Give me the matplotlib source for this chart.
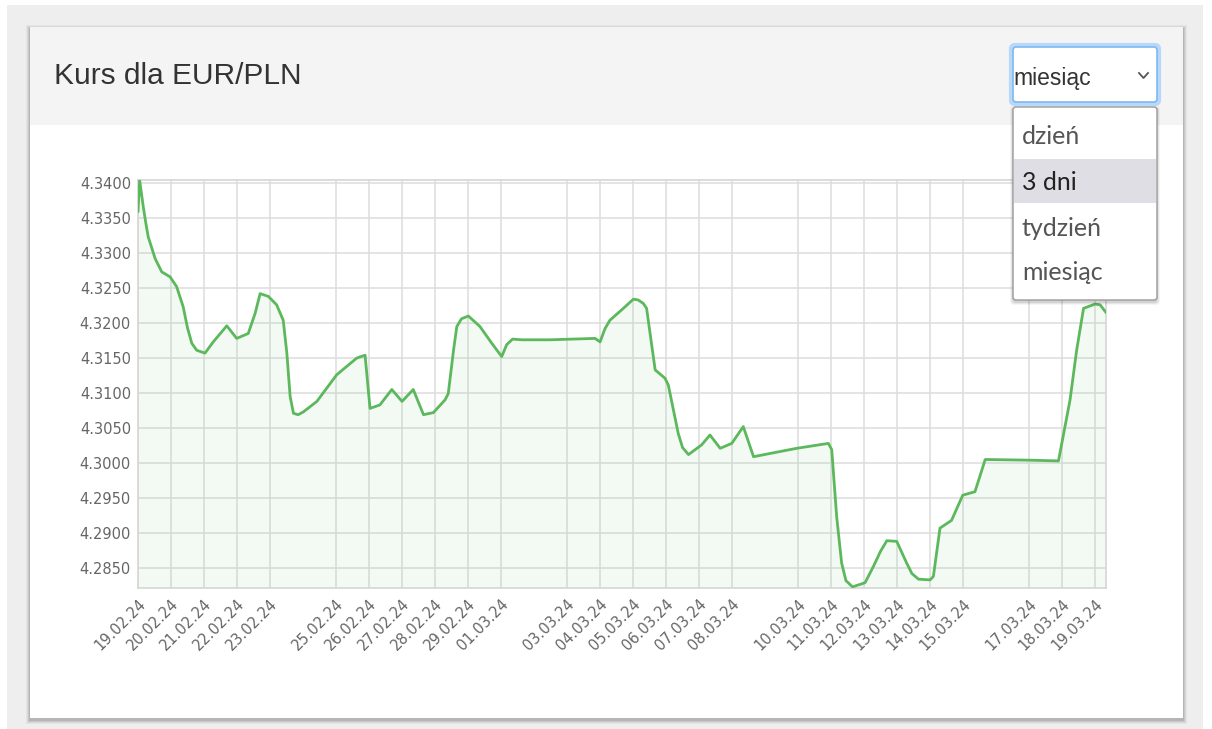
import datetime as dt
import matplotlib
matplotlib.use("Agg")
import matplotlib.pyplot as plt
from matplotlib.patches import Rectangle, FancyBboxPatch

# ---------------- data ----------------
title = "Kurs dla EUR/PLN"
start_date = "19.02.24"
day_offsets = [0.00, 0.05, 0.16, 0.24, 0.31, 0.52, 0.72, 0.97, 1.17, 1.37, 1.50, 1.63, 1.78,
               2.03, 2.28, 2.69, 2.99, 3.34, 3.55, 3.70, 3.95, 4.20, 4.40, 4.51, 4.61, 4.71,
               4.85, 5.01, 5.42, 6.02, 6.63, 6.88, 7.03, 7.33, 7.69, 8.00, 8.34, 8.65, 8.95,
               9.30, 9.40, 9.56, 9.66, 9.80, 10.01, 10.36, 10.72, 11.02, 11.17, 11.35, 11.63,
               12.48, 13.85, 14.00, 14.15, 14.30, 14.66, 15.01, 15.15, 15.31, 15.41, 15.67,
               15.97, 16.07, 16.37, 16.50, 16.68, 17.08, 17.33, 17.64, 17.99, 18.34, 18.65,
               19.96, 20.92, 21.02, 21.17, 21.32, 21.45, 21.65, 22.03, 22.28, 22.50, 22.69,
               22.99, 23.29, 23.45, 23.65, 24.00, 24.10, 24.30, 24.65, 24.99, 25.36, 25.67,
               27.03, 27.89, 28.24, 28.44, 28.65, 29.00, 29.15, 29.33]
rates = [4.3359, 4.3404, 4.3366, 4.3342, 4.3323, 4.3292, 4.3273, 4.3266, 4.3252, 4.3223,
         4.3193, 4.3171, 4.3161, 4.3157, 4.3173, 4.3196, 4.3178, 4.3185, 4.3214, 4.3242,
         4.3238, 4.3226, 4.3204, 4.3157, 4.3095, 4.3071, 4.3069, 4.3073, 4.3088, 4.3126,
         4.3150, 4.3154, 4.3078, 4.3083, 4.3105, 4.3088, 4.3105, 4.3069, 4.3072, 4.3090,
         4.3099, 4.3161, 4.3195, 4.3206, 4.3210, 4.3195, 4.3171, 4.3152, 4.3169, 4.3177,
         4.3176, 4.3176, 4.3178, 4.3173, 4.3192, 4.3204, 4.3219, 4.3234, 4.3233, 4.3228,
         4.3221, 4.3133, 4.3121, 4.3111, 4.3042, 4.3022, 4.3012, 4.3026, 4.3040, 4.3021,
         4.3028, 4.3052, 4.3009, 4.3021, 4.3028, 4.3019, 4.2923, 4.2857, 4.2832, 4.2823,
         4.2829, 4.2852, 4.2874, 4.2889, 4.2888, 4.2857, 4.2842, 4.2834, 4.2833, 4.2838,
         4.2907, 4.2918, 4.2954, 4.2959, 4.3005, 4.3004, 4.3003, 4.3090, 4.3161, 4.3221,
         4.3227, 4.3226, 4.3215]
tick_labels = ["19.02.24", "20.02.24", "21.02.24", "22.02.24", "23.02.24", "25.02.24",
               "26.02.24", "27.02.24", "28.02.24", "29.02.24", "01.03.24", "03.03.24",
               "04.03.24", "05.03.24", "06.03.24", "07.03.24", "08.03.24", "10.03.24",
               "11.03.24", "12.03.24", "13.03.24", "14.03.24", "15.03.24", "17.03.24",
               "18.03.24", "19.03.24"]
y_ticks = [4.2850, 4.2900, 4.2950, 4.3000, 4.3050, 4.3100, 4.3150, 4.3200, 4.3250,
           4.3300, 4.3350, 4.3400]
select_value = "miesiąc"
options = ["dzień", "3 dni", "tydzień", "miesiąc"]
highlighted = "3 dni"

# ---------------- figure ----------------
W, H = 1212, 729
fig = plt.figure(figsize=(W / 100, H / 100), dpi=100)
fig.patch.set_facecolor("white")

bg = fig.add_axes([0, 0, 1, 1], zorder=0)
bg.set_xlim(0, W)
bg.set_ylim(H, 0)
bg.axis("off")

# page panel
bg.add_patch(Rectangle((7, 5), 1196, 730, facecolor="#eeeeee", edgecolor="none"))
# card shadow
for i, a in enumerate([0.04, 0.05, 0.07, 0.09]):
    d = 4 - i
    bg.add_patch(Rectangle((30 - d, 27 - d + 2), 1153 + 2 * d, 691 + 2 * d,
                           facecolor="black", alpha=a, edgecolor="none"))
bg.add_patch(Rectangle((30, 27), 1153, 691, facecolor="white", edgecolor="none"))
bg.add_patch(Rectangle((30, 27), 1153, 98, facecolor="#f4f4f4", edgecolor="none"))
bg.text(54, 76, title, fontsize=21.5, family="Liberation Sans", color="#333333",
        ha="left", va="center")

# ---------------- chart ----------------
base = dt.datetime.strptime(start_date, "%d.%m.%y")
xs = [base + dt.timedelta(days=d) for d in day_offsets]
tick_pos = [dt.datetime.strptime(t, "%d.%m.%y") for t in tick_labels]

L, R, T, B = 138, 1106, 180, 588
ax = fig.add_axes([L / W, 1 - B / H, (R - L) / W, (B - T) / H], zorder=1)
ax.set_facecolor("white")

line_color = "#5cb85c"
ax.fill_between(xs, rates, 4.2, color="#5cb85c", alpha=0.07, lw=0, zorder=2)
ax.plot(xs, rates, color=line_color, lw=2.0, zorder=3,
        solid_joinstyle="round", solid_capstyle="round")

ax.set_xlim(xs[0], xs[-1])
ax.set_ylim(4.28214, 4.34043)
ax.set_yticks(y_ticks)
ax.set_yticklabels([f"{v:.4f}" for v in y_ticks])
ax.set_xticks(tick_pos)
ax.set_xticklabels(tick_labels)
ax.grid(True, color="#dddddd", lw=1.1, zorder=0)
ax.set_axisbelow(True)
for s in ax.spines.values():
    s.set_color("#d6d6d6")
    s.set_linewidth(1.2)
ax.tick_params(axis="both", length=0, colors="#666666", labelsize=10.5)
ax.tick_params(axis="y", pad=5)
ax.tick_params(axis="x", pad=6)
for lab in ax.get_yticklabels():
    lab.set_family("DejaVu Sans")
for lab in ax.get_xticklabels():
    lab.set_family("DejaVu Sans")
    lab.set_rotation(45)
    lab.set_ha("right")
    lab.set_rotation_mode("anchor")

# ---------------- dropdown overlay ----------------
fg = fig.add_axes([0, 0, 1, 1], zorder=3)
fg.set_xlim(0, W)
fg.set_ylim(H, 0)
fg.axis("off")
fg.patch.set_alpha(0)

# select box with focus glow
fg.add_patch(FancyBboxPatch((1011, 45), 148, 59, boxstyle="round,pad=0,rounding_size=4",
                            facecolor="none", edgecolor="#b8d8fb", lw=3.0))
fg.add_patch(FancyBboxPatch((1013, 47), 144, 55, boxstyle="round,pad=0,rounding_size=3",
                            facecolor="white", edgecolor="#80b7f0", lw=1.2))
fg.text(1013, 78, select_value, fontsize=16.5, family="Liberation Sans", color="#333333",
        ha="left", va="center")
fg.plot([1139, 1143.5, 1148], [73, 78, 73], color="#555555", lw=1.3)

# dropdown list
for i, a in enumerate([0.04, 0.06, 0.08]):
    d = 3 - i
    fg.add_patch(FancyBboxPatch((1013 - d, 107 - d + 2), 144 + 2 * d, 193 + 2 * d,
                                boxstyle="round,pad=0,rounding_size=4",
                                facecolor="black", alpha=a, edgecolor="none"))
fg.add_patch(FancyBboxPatch((1013, 107), 144, 193, boxstyle="round,pad=0,rounding_size=3",
                            facecolor="white", edgecolor="#9a9a9a", lw=1.0))
item_y = [136, 182, 228, 272]
for name, yy in zip(options, item_y):
    if name == highlighted:
        fg.add_patch(Rectangle((1014, yy - 23), 142, 44, facecolor="#dedee4",
                               edgecolor="none"))
    fg.text(1022, yy, name, fontsize=18, family="Lato",
            color="#222222" if name == highlighted else "#555555",
            ha="left", va="center")

fig.savefig("out.png", dpi=100, facecolor=fig.get_facecolor())
